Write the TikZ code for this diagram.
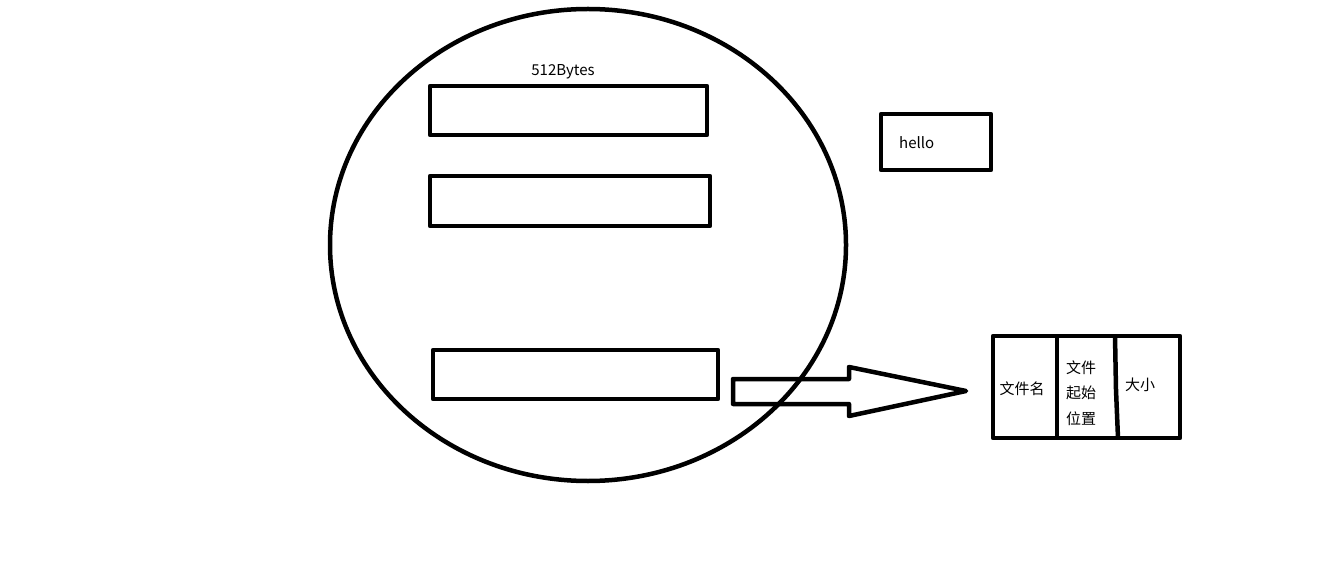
\documentclass[tikz,border=0pt]{standalone}
\usepackage{fontspec}
\setmainfont{Noto Sans CJK SC}
\usetikzlibrary{shapes.geometric}
\begin{document}
\begin{tikzpicture}[x=1pt,y=-1pt,
  thick line/.style={line width=4.5pt,line join=round},
  blockbox/.style={draw,thick line,inner sep=0pt,minimum width=#1},
  lbl/.style={inner sep=0pt,font=\fontsize{15}{17}\selectfont}]
\useasboundingbox[fill=white] (0,0) rectangle (1341,577);
% disk
\node[draw,thick line,ellipse,inner sep=0pt,minimum width=516pt,minimum height=472pt] (disk) at (588,245) {};
% sectors
\node[blockbox=277pt,minimum height=49pt] (s1) at (568.5,110.5) {};
\node[blockbox=280pt,minimum height=50pt] (s2) at (570,201) {};
\node[blockbox=285pt,minimum height=49pt] (s3) at (575.5,374.5) {};
\node[lbl] (size) at (563,72) {512Bytes};
% hello
\node[blockbox=110pt,minimum height=56pt] (hello) at (936,142) {};
\node[lbl,anchor=west] (hellot) at (899,143) {hello};
% table
\node[blockbox=187pt,minimum height=102pt] (tab) at (1086.5,387) {};
\coordinate (d1t) at (1057,336);
\coordinate (d1b) at (1057,438);
\coordinate (d2t) at (1115,336);
\coordinate (d2m) at (1116,390);
\coordinate (d2b) at (1118,438);
\draw[thick line] (d1t) -- (d1b);
\draw[thick line] (d2t) -- (d2m) -- (d2b);
\node[lbl] (name) at (1022,389) {文件名};
\node[lbl] (st1) at (1081,368) {文件};
\node[lbl] (st2) at (1081,393) {起始};
\node[lbl] (st3) at (1081,419) {位置};
\node[lbl] (len) at (1140,385) {大小};
% block arrow
\coordinate (a1) at (733,379);
\coordinate (a2) at (849,379);
\coordinate (a3) at (849,367);
\coordinate (tip) at (966,391);
\coordinate (a5) at (849,416);
\coordinate (a6) at (849,404);
\coordinate (a7) at (733,404);
\draw[thick line] (a1) -- (a2) -- (a3) -- (tip) -- (a5) -- (a6) -- (a7) -- cycle;
\end{tikzpicture}
\end{document}
